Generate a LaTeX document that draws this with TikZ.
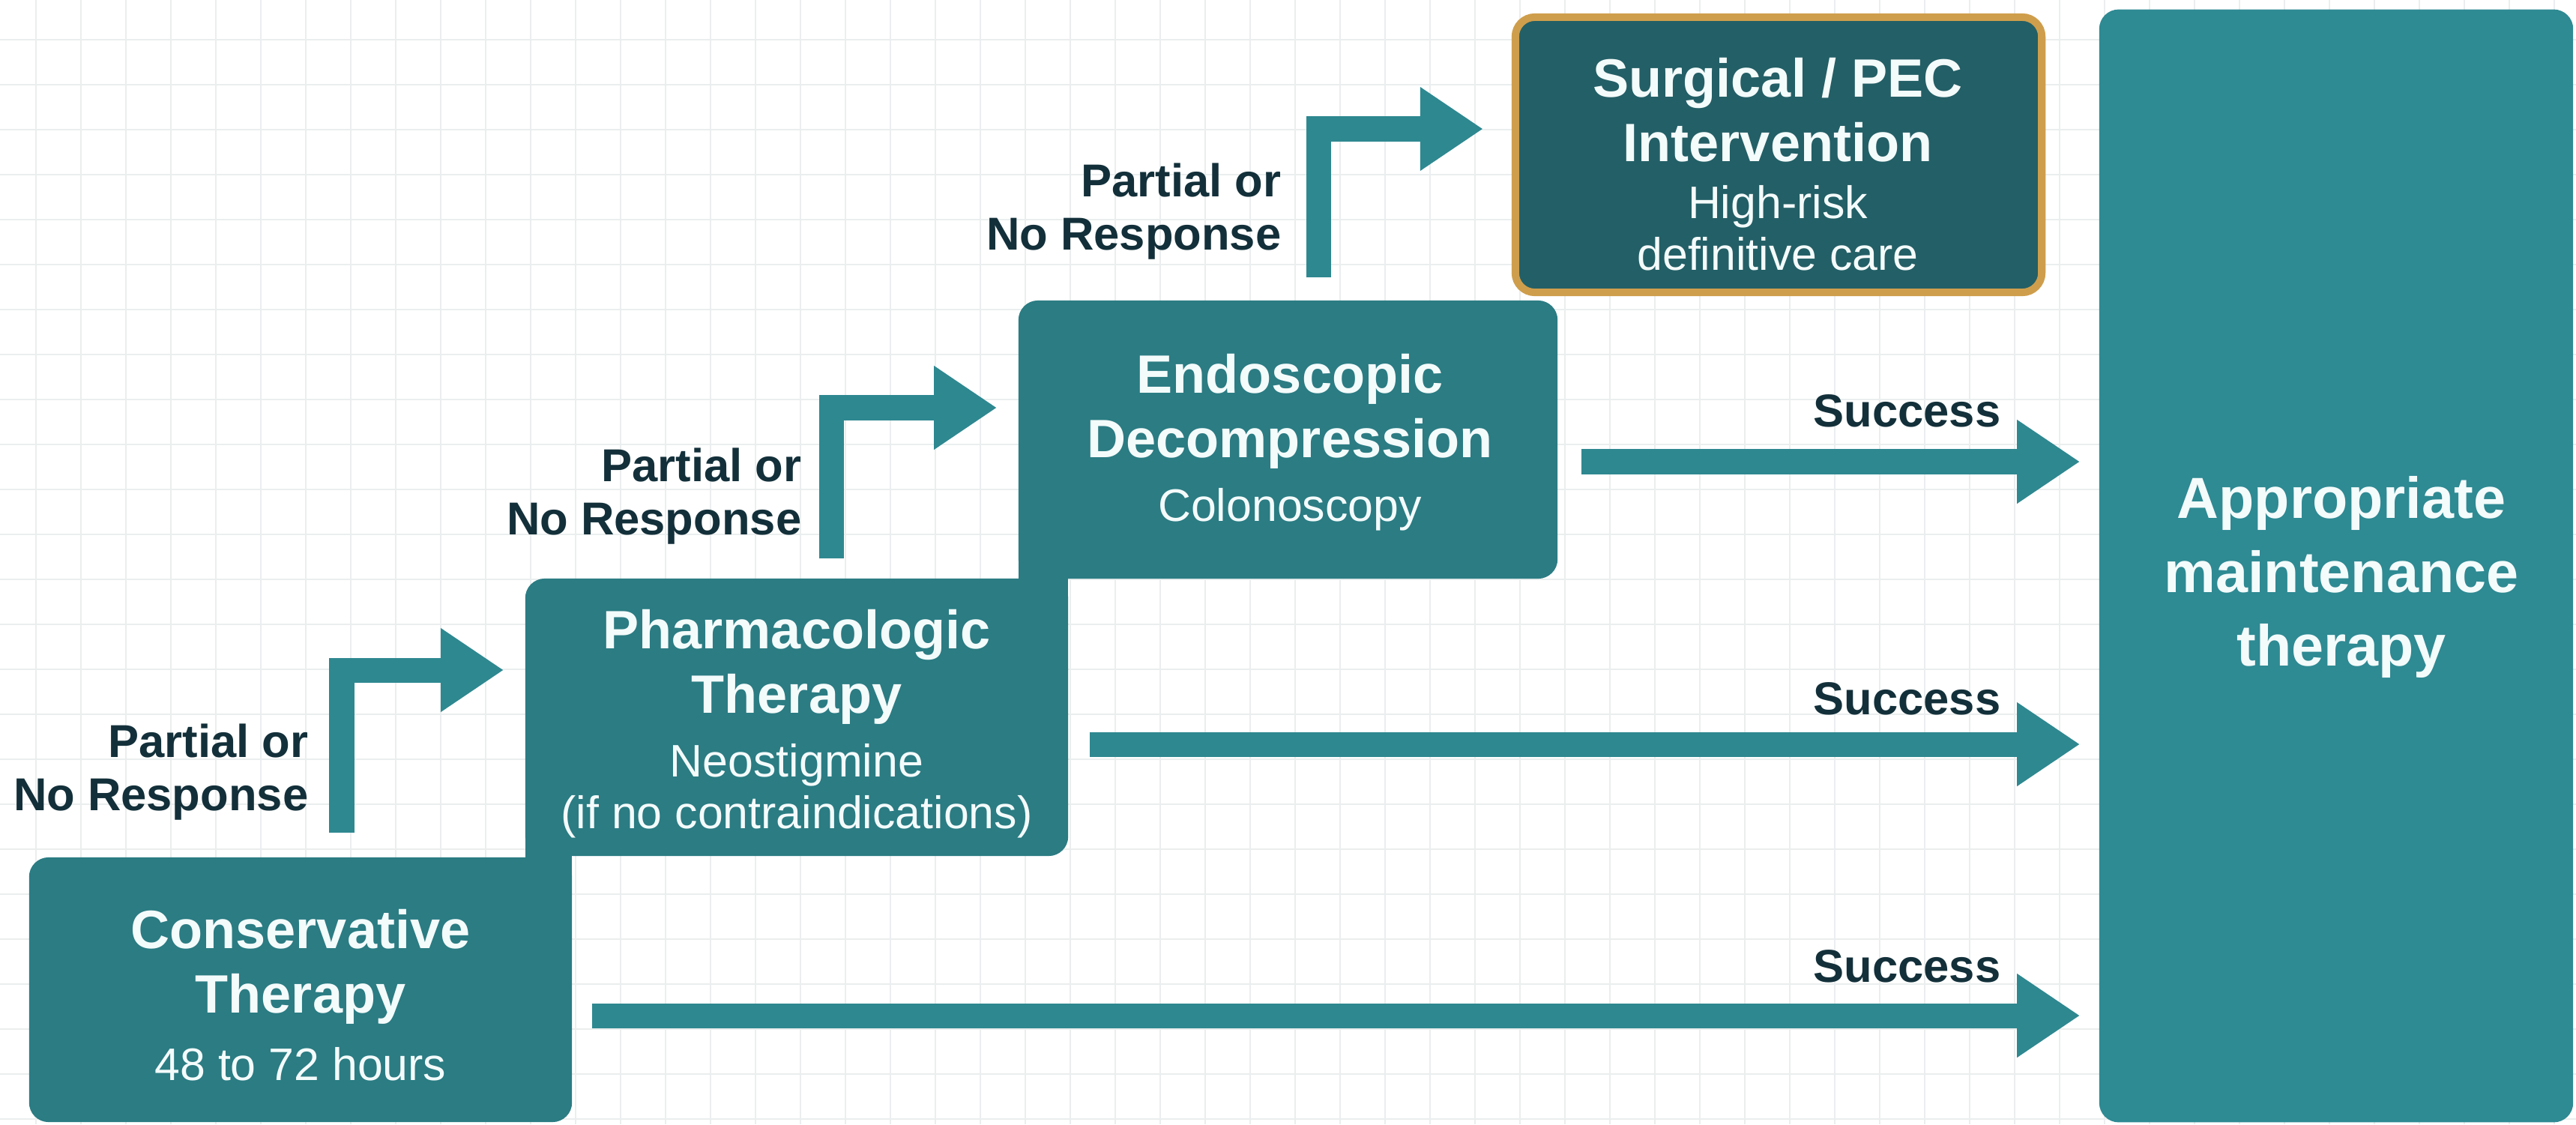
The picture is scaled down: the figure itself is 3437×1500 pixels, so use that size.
\documentclass[tikz,border=0pt]{standalone}
\usepackage{fontspec}
\setmainfont{Liberation Sans}
\usetikzlibrary{arrows.meta,calc}
\definecolor{stepc}{HTML}{2B7C83}
\definecolor{apprc}{HTML}{2E8A93}
\definecolor{surgc}{HTML}{235F66}
\definecolor{goldc}{HTML}{CF9E4C}
\definecolor{arrowc}{HTML}{2E8890}
\definecolor{darktext}{HTML}{13303A}
\definecolor{lighttext}{HTML}{F4FBFB}
\definecolor{gridc}{HTML}{EBEEEE}
\tikzset{
  stepbox/.style={fill=stepc, rounded corners=0.26cm, inner sep=0pt},
  apprbox/.style={fill=apprc, rounded corners=0.26cm, inner sep=0pt},
  surgbox/.style={fill=surgc, draw=goldc, line width=0.1cm, rounded corners=0.26cm, inner sep=0pt},
  titletxt/.style={text=lighttext, align=center, font=\bfseries\fontsize{20.5}{24.5}\selectfont, inner sep=0pt},
  subtxt/.style={text=lighttext, align=center, font=\fontsize{17.3}{19.5}\selectfont, inner sep=0pt},
  appttxt/.style={text=lighttext, align=center, font=\bfseries\fontsize{22}{28}\selectfont, inner sep=0pt},
  lbltxt/.style={text=darktext, align=right, font=\bfseries\fontsize{17.5}{20.4}\selectfont, inner sep=0pt, anchor=east},
  flat/.style={draw=arrowc, line width=0.33cm, line join=miter, line cap=butt, -{Triangle[length=0.84cm,width=1.06cm]}}
}
\begin{document}
\begin{tikzpicture}[x=0.01cm,y=-0.01cm]
\useasboundingbox (0,0) rectangle (3437,1500);
\fill[white] (0,0) rectangle (3437,1500);
\foreach \gx in {48,108,...,3437} \draw[gridc, line width=0.7pt] (\gx,0) -- (\gx,1500);
\foreach \gy in {53,113,...,1500} \draw[gridc, line width=0.7pt] (0,\gy) -- (3437,\gy);

% boxes
\node[stepbox, minimum width=7.24cm, minimum height=3.53cm] (cons) at (401,1320.5) {};
\node[stepbox, minimum width=7.24cm, minimum height=3.70cm] (pharma) at (1063,957) {};
\node[stepbox, minimum width=7.19cm, minimum height=3.71cm] (endo) at (1718.5,586.5) {};
\fill[stepc] (701,1110) rectangle (763,1175);
\fill[stepc] (1359,740) rectangle (1425,805);
\node[surgbox, minimum width=7.02cm, minimum height=3.67cm] (surg) at (2373,206.5) {};
\node[apprbox, minimum width=6.32cm, minimum height=14.84cm] (appr) at (3117,755) {};

% box texts
\node[titletxt] (consT) at (401,1290) {Conservative\\Therapy};
\node[subtxt] (consS) at (401,1420) {48 to 72 hours};
\node[titletxt] (pharmaT) at (1063,890) {Pharmacologic\\Therapy};
\node[subtxt] (pharmaS) at (1063,1055) {Neostigmine\\(if no contraindications)};
\node[titletxt] (endoT) at (1721,549) {Endoscopic\\Decompression};
\node[subtxt] (endoS) at (1721,680) {Colonoscopy};
\node[titletxt] (surgT) at (2372,147) {Surgical / PEC\\Intervention};
\node[subtxt] (surgS) at (2372,304) {High-risk\\definitive care};
\node[appttxt] (apprT) at (3124,770) {Appropriate\\maintenance\\therapy};

% elbow arrows
\coordinate (a1s) at (456,1111);
\coordinate (a1e) at (701,894);
\draw[flat, shorten >=0.28cm] (a1s) |- (pharma.west |- a1e);
\coordinate (a2s) at (1109,745);
\coordinate (a2e) at (1359,544);
\draw[flat, shorten >=0.28cm] (a2s) |- (endo.west |- a2e);
\coordinate (a3s) at (1759,370);
\coordinate (a3e) at (2017,172);
\draw[flat, shorten >=0.38cm] (a3s) |- (surg.west |- a3e);

\node[lbltxt] (l1) at (412,1030) {Partial or\\No Response};
\node[lbltxt] (l2) at (1070,662) {Partial or\\No Response};
\node[lbltxt] (l3) at (1710,282) {Partial or\\No Response};

% success arrows
\coordinate (s1) at (0,1355);
\coordinate (s2) at (0,993);
\coordinate (s3) at (0,616);
\draw[flat, shorten <=0.26cm, shorten >=0.25cm] (cons.east |- s1) -- (appr.west |- s1);
\draw[flat, shorten <=0.28cm, shorten >=0.25cm] (pharma.east |- s2) -- (appr.west |- s2);
\draw[flat, shorten <=0.31cm, shorten >=0.25cm] (endo.east |- s3) -- (appr.west |- s3);
\node[lbltxt] (sc1) at (2670,1289) {Success};
\node[lbltxt] (sc2) at (2670,932) {Success};
\node[lbltxt] (sc3) at (2670,548) {Success};
\end{tikzpicture}
\end{document}
